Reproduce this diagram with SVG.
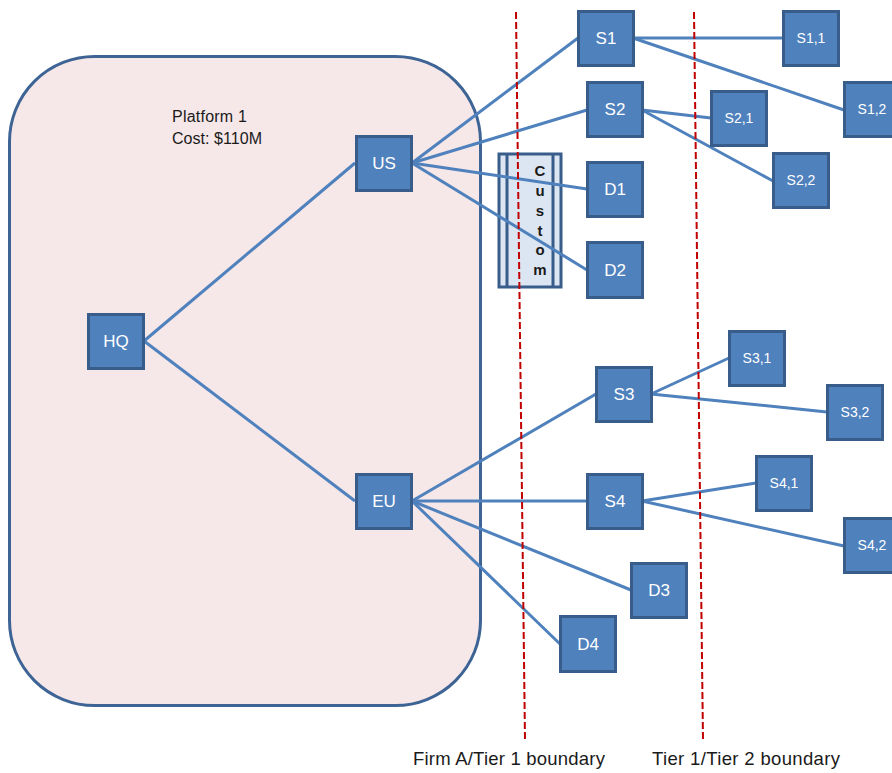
<svg xmlns="http://www.w3.org/2000/svg" width="892" height="773" viewBox="0 0 892 773">
<style>
.n rect{fill:#4F81BD;stroke:#385D8A;stroke-width:3}
.n text{fill:#FFFFFF;font-family:"Liberation Sans",Arial,sans-serif;font-size:17px;text-anchor:middle;dominant-baseline:central}
.n text.s{font-size:14px}
.c line{stroke:#4F81BD;stroke-width:3}
.b{stroke:#C00000;stroke-width:2;stroke-dasharray:7 3}
.t{font-family:"Liberation Sans",Arial,sans-serif;fill:#1a1a1a}
</style>
<rect width="892" height="773" fill="#FFFFFF"/>
<g id="platform">
<rect x="9.5" y="56.5" width="471" height="649" rx="85" ry="85" fill="#F6E7E8" stroke="#3D6494" stroke-width="3"/>
<text class="t" x="172" y="122" font-size="16" textLength="75">Platform 1</text>
<text class="t" x="172" y="144" font-size="16" textLength="90">Cost: $110M</text>
</g>
<g id="custom">
<rect x="499" y="154" width="62" height="133" fill="#DCE6F2" stroke="#385D8A" stroke-width="3"/>
<line x1="507" y1="154" x2="507" y2="287" stroke="#385D8A" stroke-width="3"/>
<line x1="553" y1="154" x2="553" y2="287" stroke="#385D8A" stroke-width="3"/>
<g class="t" font-size="15" font-weight="bold" text-anchor="middle" fill="#111">
<text x="540" y="176">C</text>
<text x="540" y="196">u</text>
<text x="540" y="216">s</text>
<text x="540" y="236">t</text>
<text x="540" y="255">o</text>
<text x="540" y="275">m</text>
</g>
</g>
<g id="connectors" class="c">
<line x1="144" y1="341" x2="355" y2="163"/>
<line x1="144" y1="341" x2="355" y2="501"/>
<line x1="412" y1="163" x2="578" y2="38"/>
<line x1="412" y1="163" x2="587" y2="110"/>
<line x1="412" y1="163" x2="587" y2="189"/>
<line x1="412" y1="163" x2="587" y2="270"/>
<line x1="633" y1="38" x2="783" y2="38"/>
<line x1="633" y1="38" x2="844" y2="110"/>
<line x1="642" y1="110" x2="711" y2="118"/>
<line x1="642" y1="110" x2="773" y2="181"/>
<line x1="412" y1="501" x2="596" y2="394"/>
<line x1="412" y1="501" x2="587" y2="501"/>
<line x1="412" y1="501" x2="631" y2="590"/>
<line x1="412" y1="501" x2="560" y2="644"/>
<line x1="651" y1="394" x2="729" y2="358"/>
<line x1="651" y1="394" x2="827" y2="412"/>
<line x1="642" y1="501" x2="756" y2="483"/>
<line x1="642" y1="501" x2="844" y2="546"/>
</g>
<g id="boundaries">
<line class="b" x1="516" y1="12" x2="525" y2="740"/>
<line class="b" x1="694" y1="12" x2="703" y2="740"/>
<text class="t" x="413" y="765" font-size="18.5" textLength="192">Firm A/Tier 1 boundary</text>
<text class="t" x="652" y="765" font-size="18.5" textLength="188">Tier 1/Tier 2 boundary</text>
</g>
<g id="HQ" class="n"><rect x="88.5" y="314.5" width="55" height="54"/><text x="116" y="341">HQ</text></g>
<g id="US" class="n"><rect x="356.5" y="136.5" width="55" height="54"/><text x="384" y="163">US</text></g>
<g id="EU" class="n"><rect x="356.5" y="474.5" width="55" height="54"/><text x="384" y="501">EU</text></g>
<g id="S1" class="n"><rect x="578.5" y="11.5" width="55" height="54"/><text x="606" y="38">S1</text></g>
<g id="S2" class="n"><rect x="587.5" y="82.5" width="55" height="54"/><text x="615" y="109">S2</text></g>
<g id="D1" class="n"><rect x="587.5" y="162.5" width="55" height="54"/><text x="615" y="189">D1</text></g>
<g id="D2" class="n"><rect x="587.5" y="242.5" width="55" height="55"/><text x="615" y="270">D2</text></g>
<g id="S1_1" class="n"><rect x="783.5" y="11.5" width="55" height="54"/><text class="s" x="811" y="38">S1,1</text></g>
<g id="S1_2" class="n"><rect x="844.5" y="82.5" width="55" height="54"/><text class="s" x="872" y="109">S1,2</text></g>
<g id="S2_1" class="n"><rect x="711.5" y="91.5" width="55" height="54"/><text class="s" x="739" y="118">S2,1</text></g>
<g id="S2_2" class="n"><rect x="773.5" y="153.5" width="55" height="54"/><text class="s" x="801" y="180">S2,2</text></g>
<g id="S3" class="n"><rect x="596.5" y="367.5" width="55" height="54"/><text x="624" y="394">S3</text></g>
<g id="S3_1" class="n"><rect x="729.5" y="331.5" width="55" height="54"/><text class="s" x="757" y="358">S3,1</text></g>
<g id="S3_2" class="n"><rect x="827.5" y="385.5" width="55" height="54"/><text class="s" x="855" y="412">S3,2</text></g>
<g id="S4" class="n"><rect x="587.5" y="474.5" width="55" height="54"/><text x="615" y="501">S4</text></g>
<g id="S4_1" class="n"><rect x="756.5" y="456.5" width="55" height="54"/><text class="s" x="784" y="483">S4,1</text></g>
<g id="S4_2" class="n"><rect x="844.5" y="518.5" width="55" height="54"/><text class="s" x="872" y="545">S4,2</text></g>
<g id="D3" class="n"><rect x="631.5" y="563.5" width="55" height="54"/><text x="659" y="590">D3</text></g>
<g id="D4" class="n"><rect x="560.5" y="616.5" width="55" height="55"/><text x="588" y="644">D4</text></g>
</svg>
